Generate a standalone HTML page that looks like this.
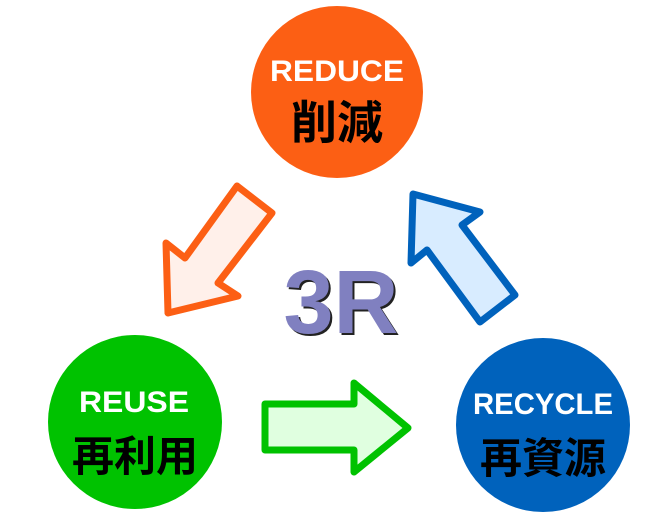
<!DOCTYPE html>
<html><head><meta charset="utf-8"><style>
html,body{margin:0;padding:0;background:#fff;width:670px;height:517px;overflow:hidden}
svg text{font-family:"Liberation Sans","Noto Sans CJK JP",sans-serif;font-weight:bold;text-anchor:middle}
</style></head><body>
<svg width="670" height="517" viewBox="0 0 670 517" xmlns="http://www.w3.org/2000/svg">
<circle cx="337" cy="92" r="86" fill="#fc5f14"/>
<ellipse cx="135" cy="422" rx="87" ry="87" fill="#00c200"/>
<ellipse cx="543" cy="425" rx="87" ry="87" fill="#0062bc"/>
<text x="337" y="81" font-size="30" fill="#fff" textLength="134" lengthAdjust="spacingAndGlyphs">REDUCE</text>
<text x="337" y="139" font-size="46" fill="#000">削減</text>
<text x="134" y="412" font-size="30" fill="#fff" textLength="110" lengthAdjust="spacingAndGlyphs">REUSE</text>
<text x="135" y="471" font-size="42" fill="#000">再利用</text>
<text x="543" y="414" font-size="30" fill="#fff" textLength="140" lengthAdjust="spacingAndGlyphs">RECYCLE</text>
<text x="543" y="473" font-size="42" fill="#000">再資源</text>
<polygon points="237,186 272,213 218,283 238,296 168,313 166,243 185,258" fill="#fff0ea" stroke="#fc5f14" stroke-width="7" stroke-linejoin="round"/>
<polygon points="413,194 480,212 462,225 515,295 480,322 427,250 411,263" fill="#d8ecff" stroke="#0062bc" stroke-width="7" stroke-linejoin="round"/>
<polygon points="265,404 354,404 354,383 408,428 354,472 354,450 265,450" fill="#e0ffe0" stroke="#00c200" stroke-width="7" stroke-linejoin="round"/>
<text x="343" y="335" font-size="90" fill="#222">3R</text>
<text x="341" y="333" font-size="90" fill="#8080c0">3R</text>
</svg>
</body></html>
